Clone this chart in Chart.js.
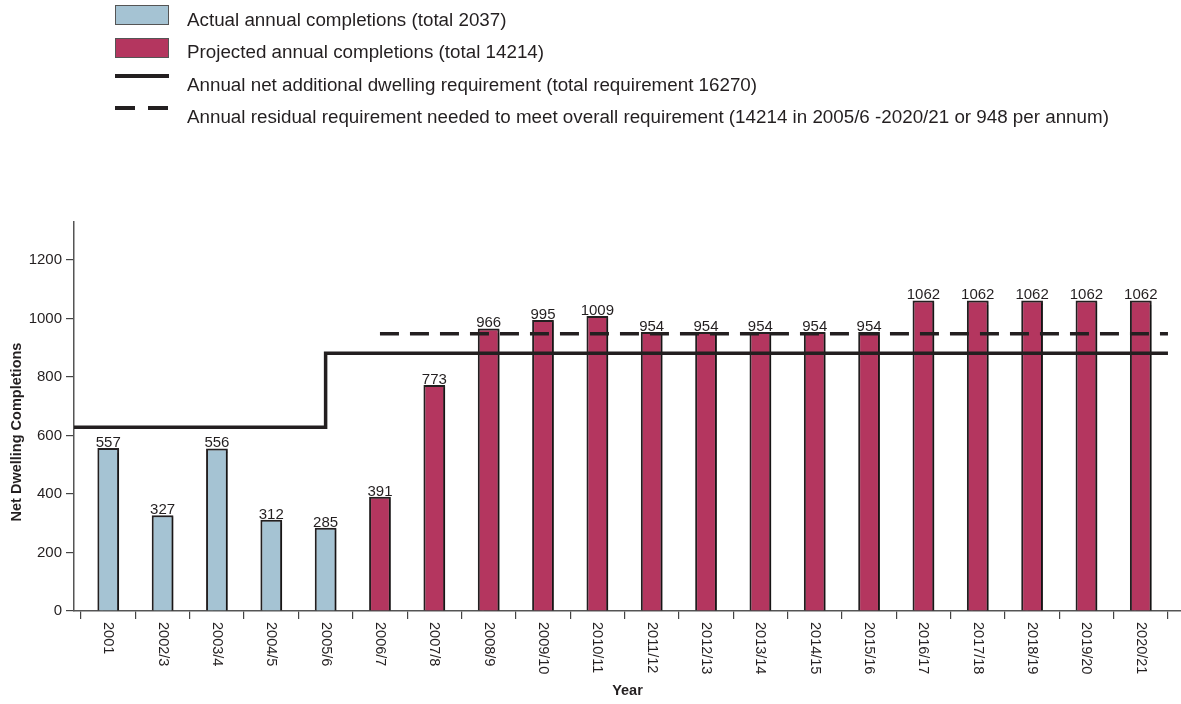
<!DOCTYPE html>
<html>
<head>
<meta charset="utf-8">
<script src="https://cdn.jsdelivr.net/npm/chart.js@4/dist/chart.umd.min.js"></script>
<style>
  html, body { margin: 0; padding: 0; background: #fff; }
  #wrap { position: relative; width: 1181px; height: 704px; font-family: "Liberation Sans", Arial, Helvetica, sans-serif; color: #231f20; }
  #chart { position: absolute; left: 0; top: 0; }
  .lg-txt { position: absolute; left: 187px; font-size: 18.8px; line-height: 20px; white-space: nowrap; color: #231f20; }
  .sw { position: absolute; left: 115px; }
</style>
</head>
<body>
<div id="wrap">
  <canvas id="chart" width="1181" height="704"></canvas>
  <div class="sw" style="top:5px;width:52px;height:18px;background:#a5c3d3;border:1px solid #555;"></div>
  <div class="sw" style="top:38px;width:52px;height:18px;background:#b4365f;border:1px solid #555;"></div>
  <div class="sw" style="top:74px;width:54px;height:4px;background:#231f20;"></div>
  <div class="sw" style="top:106px;width:20px;height:4px;background:#231f20;"></div>
  <div class="sw" style="top:106px;left:148px;width:20px;height:4px;background:#231f20;"></div>
  <div class="lg-txt" id="lg0" style="top:10px;"></div>
  <div class="lg-txt" id="lg1" style="top:42px;"></div>
  <div class="lg-txt" id="lg2" style="top:75px;"></div>
  <div class="lg-txt" id="lg3" style="top:107px;"></div>
</div>
<script>
// ---- data ----
const categories = ['2001','2002/3','2003/4','2004/5','2005/6','2006/7','2007/8','2008/9','2009/10','2010/11',
  '2011/12','2012/13','2013/14','2014/15','2015/16','2016/17','2017/18','2018/19','2019/20','2020/21'];
const actualCompletions = [557, 327, 556, 312, 285];
const projectedCompletions = [391, 773, 966, 995, 1009, 954, 954, 954, 954, 954, 1062, 1062, 1062, 1062, 1062];
const requirementEarly = 628;   // annual requirement up to 2005/6
const requirementLate = 881;    // annual requirement from 2005/6
const requirementStepCategory = '2005/6';
const residualRequirement = 948;
const residualStartCategory = '2006/7';
const yTicks = [0, 200, 400, 600, 800, 1000, 1200];
const legendLabels = [
  'Actual annual completions (total 2037)',
  'Projected annual completions (total 14214)',
  'Annual net additional dwelling requirement (total requirement 16270)',
  'Annual residual requirement needed to meet overall requirement (14214 in 2005/6 -2020/21 or 948 per annum)'
];
const xTitle = 'Year';
const yTitle = 'Net Dwelling Completions';

legendLabels.forEach((t, i) => { document.getElementById('lg' + i).textContent = t; });

const TEXT = '#231f20';
const FONT = '"Liberation Sans", Arial, Helvetica, sans-serif';
const X_MIN = -0.63, X_MAX = 19.74, Y_MAX = 1330;
const lastEdge = categories.length - 0.5;

const actualData = actualCompletions.map((v, i) => ({ x: i, y: v }));
const projectedData = projectedCompletions.map((v, i) => ({ x: i + actualCompletions.length, y: v }));
const stepIdx = categories.indexOf(requirementStepCategory);
const requirementData = [
  { x: X_MIN, y: requirementEarly },
  { x: stepIdx, y: requirementLate },
  { x: lastEdge, y: requirementLate }
];
const residualData = [
  { x: categories.indexOf(residualStartCategory), y: residualRequirement },
  { x: lastEdge, y: residualRequirement }
];
const boundaries = categories.map((c, i) => i - 0.5).concat([lastEdge]);

const labelPlugin = {
  id: 'labels',
  beforeDatasetDraw(chart, args) {
    if (args.meta.type === 'bar') {
      const ctx = chart.ctx;
      ctx.save();
      ctx.shadowColor = 'rgba(0,0,0,0.35)';
      ctx.shadowOffsetX = 2;
      ctx.shadowOffsetY = 1;
      ctx.shadowBlur = 1;
    }
  },
  afterDatasetDraw(chart, args) {
    if (args.meta.type === 'bar') chart.ctx.restore();
  },
  afterDraw(chart) {
    const ctx = chart.ctx;
    ctx.save();
    ctx.fillStyle = TEXT;
    // bar value labels
    ctx.font = '15px ' + FONT;
    ctx.textAlign = 'center';
    ctx.textBaseline = 'alphabetic';
    chart.data.datasets.forEach((ds, di) => {
      const meta = chart.getDatasetMeta(di);
      if (meta.type !== 'bar') return;
      meta.data.forEach((el, j) => {
        ctx.fillText(String(ds.data[j].y), el.x, el.y - 1);
      });
    });
    // x category labels, rotated clockwise
    const xs = chart.scales.x;
    ctx.font = '14.5px ' + FONT;
    ctx.textAlign = 'left';
    ctx.textBaseline = 'middle';
    categories.forEach((c, i) => {
      const px = xs.getPixelForValue(i);
      ctx.save();
      ctx.translate(px, chart.chartArea.bottom + 11);
      ctx.rotate(Math.PI / 2);
      ctx.fillText(c, 0, 0);
      ctx.restore();
    });
    // y title
    ctx.font = 'bold 14.5px ' + FONT;
    ctx.textAlign = 'center';
    ctx.textBaseline = 'middle';
    ctx.translate(17, 432);
    ctx.rotate(-Math.PI / 2);
    ctx.fillText(yTitle, 0, 0);
    ctx.restore();
  }
};

new Chart(document.getElementById('chart'), {
  type: 'bar',
  data: {
    datasets: [
      { type: 'line', label: legendLabels[2], data: requirementData, borderColor: TEXT, borderWidth: 3.5,
        stepped: true, pointRadius: 0, fill: false, order: 0 },
      { type: 'line', label: legendLabels[3], data: residualData, borderColor: TEXT, borderWidth: 3.5,
        borderDash: [19, 11], pointRadius: 0, fill: false, order: 0 },
      { type: 'bar', label: legendLabels[0], data: actualData, backgroundColor: '#a5c3d3', borderColor: TEXT,
        borderWidth: 2, barPercentage: 0.4, categoryPercentage: 1, grouped: false, order: 1 },
      { type: 'bar', label: legendLabels[1], data: projectedData, backgroundColor: '#b4365f', borderColor: TEXT,
        borderWidth: 2, barPercentage: 0.4, categoryPercentage: 1, grouped: false, order: 1 }
    ]
  },
  options: {
    responsive: false,
    animation: false,
    devicePixelRatio: 1,
    layout: { padding: { top: 222, left: 0, right: 0, bottom: 0 } },
    plugins: { legend: { display: false }, tooltip: { enabled: false }, title: { display: false } },
    scales: {
      x: {
        type: 'linear', min: X_MIN, max: X_MAX, offset: false,
        afterBuildTicks: s => { s.ticks = boundaries.map(v => ({ value: v })); },
        afterFit: s => { s.height = 93; },
        ticks: { callback: () => '', autoSkip: false, maxRotation: 0 },
        grid: { offset: false, drawOnChartArea: false, drawTicks: true, tickLength: 8, color: '#444', lineWidth: 1.2 },
        border: { display: true, color: '#555', width: 1.5 },
        title: { display: true, text: xTitle, color: TEXT, font: { family: FONT, size: 14.5, weight: 'bold' },
                 padding: { top: 0, bottom: 4 } }
      },
      y: {
        min: 0, max: Y_MAX,
        afterBuildTicks: s => { s.ticks = yTicks.map(v => ({ value: v })); },
        afterFit: s => { s.width = 74; },
        ticks: { color: TEXT, font: { family: FONT, size: 15 }, padding: 4, callback: v => String(v) },
        grid: { drawOnChartArea: false, drawTicks: true, tickLength: 8, color: '#444', lineWidth: 1.2 },
        border: { display: true, color: '#555', width: 1.5 }
      }
    }
  },
  plugins: [labelPlugin]
});
</script>
</body>
</html>
